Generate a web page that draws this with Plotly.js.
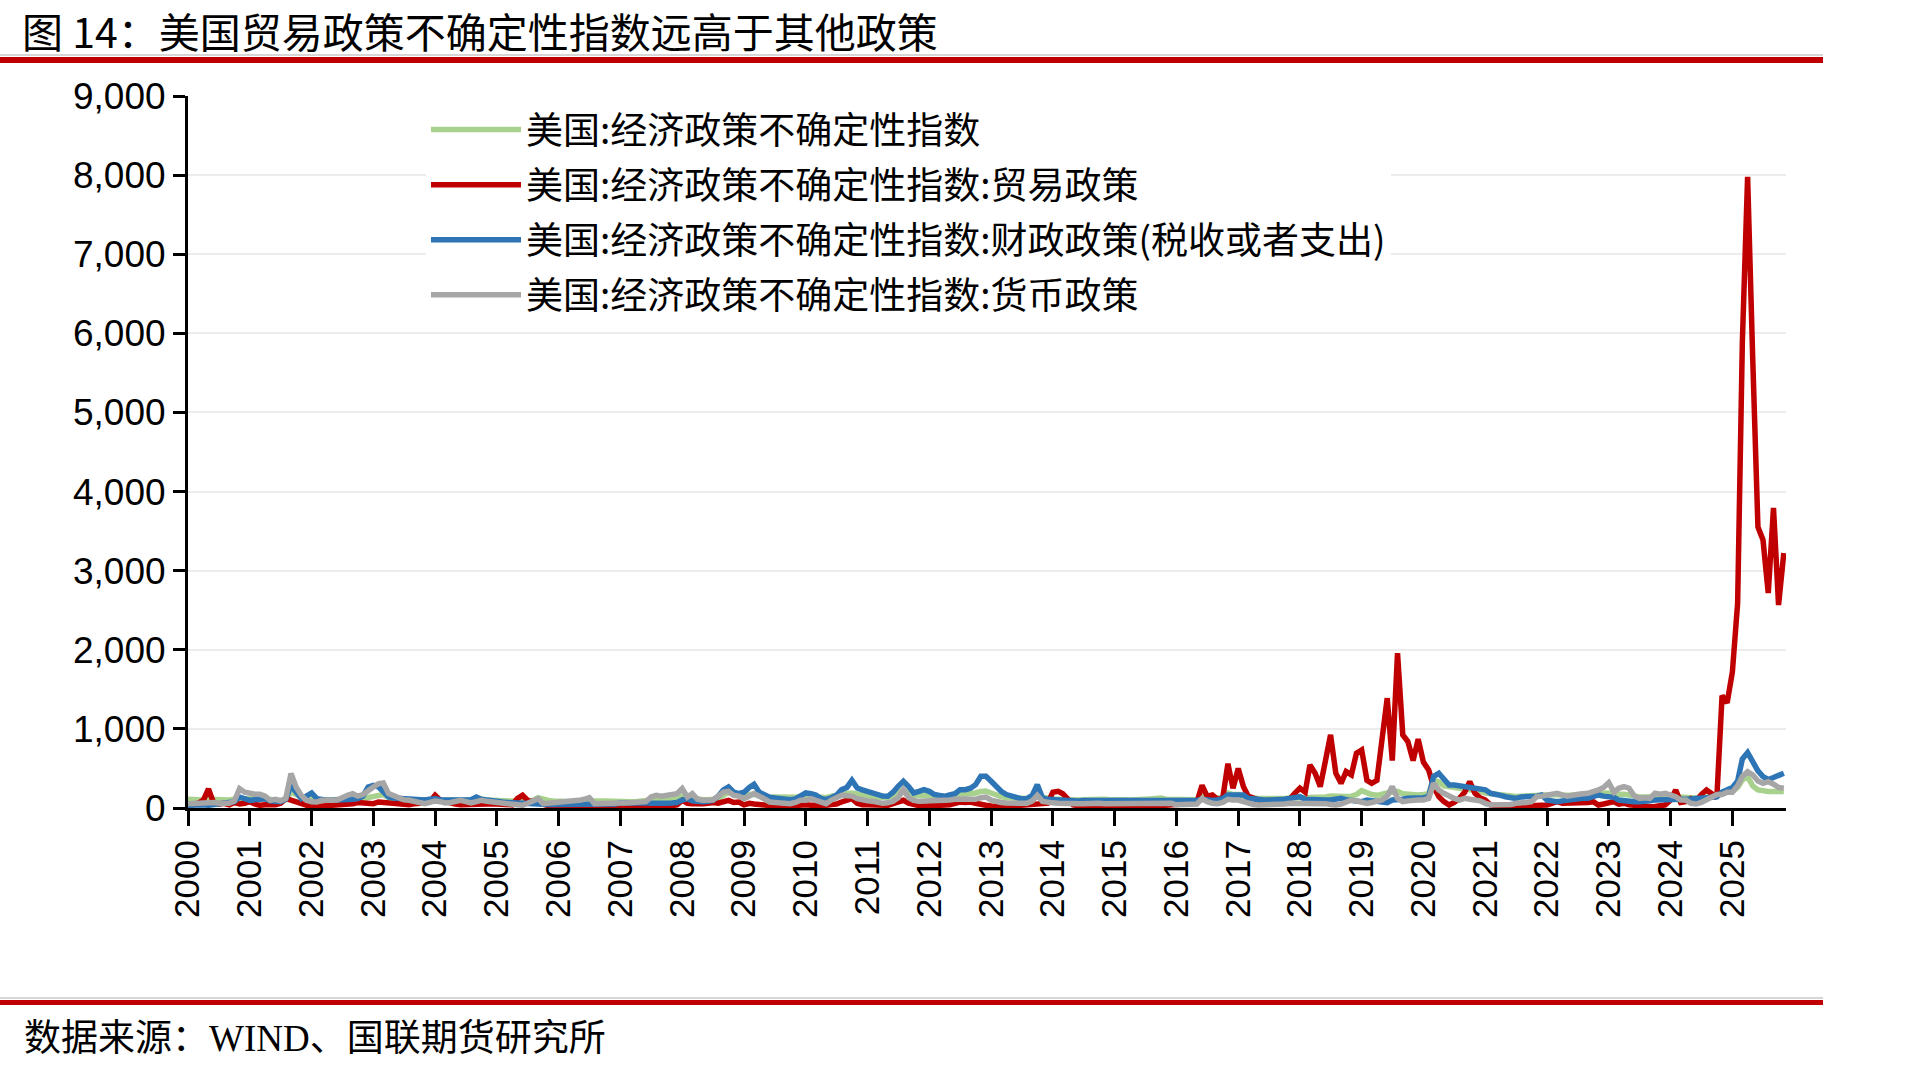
<!DOCTYPE html>
<html>
<head>
<meta charset="utf-8">
<script src="https://cdn.plot.ly/plotly-3.0.1.min.js"></script>
<style>
  html, body { margin: 0; padding: 0; background: #ffffff; }
  #chart { width: 1929px; height: 1071px; }
</style>
</head>
<body>
<div id="chart"></div>
<script>
// ---------------- data (monthly, Jan 2000 – Nov 2025) ----------------
const seriesNames = [
  '美国:经济政策不确定性指数',
  '美国:经济政策不确定性指数:贸易政策',
  '美国:经济政策不确定性指数:财政政策(税收或者支出)',
  '美国:经济政策不确定性指数:货币政策'
];
const firstYear = 2000, lastYear = 2025, lastMonth = 11;
const yearTicks = ['2000','2001','2002','2003','2004','2005','2006','2007','2008','2009','2010','2011','2012',
  '2013','2014','2015','2016','2017','2018','2019','2020','2021','2022','2023','2024','2025'];

const epu = [
  110,105,100,100,110,105,100,95,100,110,115,120,
  130,120,120,115,100,95,95,105,200,170,140,120,
  110,100,100,100,105,110,120,125,130,120,120,130,
  150,160,170,130,110,105,100,100,95,95,90,90,
  100,95,90,90,95,100,100,105,110,115,100,95,
  90,85,80,80,85,90,95,95,130,110,95,90,
  85,85,80,80,85,90,95,95,90,90,85,90,
  85,80,80,80,85,85,100,120,120,110,110,120,
  150,130,130,110,105,105,110,115,160,200,170,160,
  160,170,175,150,140,135,140,135,130,130,135,145,
  160,150,145,130,130,150,165,185,185,190,175,160,
  150,140,135,130,135,150,190,230,180,160,160,165,
  160,150,145,140,145,160,180,175,180,190,210,215,
  190,160,145,130,125,120,118,120,140,200,135,120,
  110,110,105,100,100,100,105,110,110,115,110,105,
  110,105,105,100,100,105,110,115,120,125,110,110,
  110,105,105,100,105,150,130,120,125,135,190,170,
  170,150,130,125,120,118,115,115,120,120,125,125,
  130,125,135,130,125,140,150,145,140,145,150,170,
  219,190,170,160,180,190,200,210,180,170,160,165,
  170,180,354,330,280,270,270,260,250,240,220,210,
  190,180,170,165,155,150,145,150,155,160,165,170,
  160,165,170,160,155,160,170,175,170,175,180,185,
  190,170,180,175,165,150,140,140,145,150,150,150,
  145,140,130,130,125,125,130,135,140,150,190,200,
  210,260,354,397,280,228,215,210,207,207,207
];

const trade = [
  30,50,60,100,240,60,50,60,40,70,50,60,
  80,50,34,40,34,40,60,118,100,76,50,40,
  13,20,25,15,20,30,40,50,55,70,60,50,
  55,76,70,60,50,40,34,40,55,60,97,80,
  160,97,80,60,50,40,40,34,40,45,50,55,
  55,50,40,40,118,160,97,80,55,40,30,25,
  20,15,12,12,15,15,15,15,15,12,12,12,
  12,12,12,12,12,12,15,15,20,25,30,40,
  97,60,55,50,55,60,70,60,76,97,70,76,
  40,60,50,40,34,30,25,20,25,30,40,50,
  40,35,30,40,34,45,50,76,90,118,60,40,
  40,34,30,30,34,55,70,97,60,40,30,25,
  25,25,30,34,40,60,76,70,76,60,40,34,
  25,20,20,21,25,30,34,30,40,55,50,60,
  200,211,181,97,40,30,25,20,20,25,20,20,
  15,15,15,20,25,30,25,20,25,30,35,40,
  40,50,70,60,70,287,150,165,110,120,560,250,
  500,270,150,120,100,90,80,80,70,80,110,185,
  250,200,544,440,270,600,924,440,312,460,418,692,
  734,350,312,350,870,1388,600,1958,924,840,600,870,
  580,480,270,143,80,38,70,122,200,333,186,130,
  101,38,30,25,17,20,20,25,25,30,30,35,
  38,60,80,60,60,55,55,59,70,80,38,50,
  60,80,50,60,40,30,20,17,17,20,25,38,
  100,228,70,80,120,90,170,228,180,130,1420,1330,
  1720,2590,5900,7977,5700,3552,3388,2718,3792,2566,3224
];

const fiscal = [
  34,40,46,40,34,40,45,55,60,80,139,118,
  97,105,118,118,90,76,80,110,287,200,118,150,
  190,118,105,97,97,97,97,100,110,118,150,266,
  287,266,200,139,125,118,118,110,100,97,100,110,
  118,105,100,97,97,100,100,105,139,110,100,97,
  90,76,70,65,60,55,55,50,55,50,45,45,
  45,40,38,34,34,35,34,36,38,40,45,50,
  63,65,70,76,72,65,60,55,58,60,63,70,
  100,118,90,76,80,85,95,150,230,266,200,181,
  200,260,300,200,160,135,127,115,105,105,115,148,
  190,180,165,120,105,130,160,232,260,350,253,230,
  211,180,165,150,148,200,274,338,270,190,210,232,
  211,170,160,148,165,181,232,232,250,295,400,400,
  338,260,211,170,148,120,114,120,160,295,127,110,
  105,100,95,95,95,90,95,95,90,95,95,90,
  95,90,85,80,80,80,85,85,80,85,90,95,
  80,80,85,90,95,110,100,95,100,120,165,165,
  177,165,122,110,101,101,101,101,105,110,122,135,
  143,110,105,101,101,101,101,105,122,105,101,90,
  80,101,95,80,75,67,101,101,110,122,122,130,
  130,143,397,439,354,291,291,280,270,249,240,230,
  230,186,165,160,143,130,122,140,143,140,150,165,
  100,90,80,90,100,100,110,122,122,150,165,150,
  150,135,100,90,80,80,80,80,90,100,100,100,
  100,110,105,110,115,120,125,130,130,140,200,228,
  260,340,620,700,590,470,397,360,385,405,439
];

const monetary = [
  55,60,55,65,75,70,60,55,60,90,245,200,
  181,175,173,150,97,110,90,120,435,266,160,97,
  80,76,97,90,97,100,139,160,181,150,170,224,
  266,308,316,181,150,118,105,97,80,70,55,70,
  89,80,63,70,85,97,80,63,80,97,85,80,
  76,65,55,50,40,34,60,90,118,55,60,70,
  76,76,76,85,97,110,131,55,60,60,60,63,
  63,63,63,63,63,80,139,160,150,155,160,180,
  245,139,181,110,97,97,100,150,202,211,160,150,
  118,150,181,150,118,76,70,63,60,55,70,97,
  97,118,97,70,55,100,139,160,155,150,118,100,
  90,84,70,59,65,84,130,232,130,97,84,84,
  90,84,90,97,100,110,118,115,110,110,130,139,
  100,80,70,63,60,58,55,60,90,160,84,70,
  65,60,55,55,55,55,55,60,55,60,55,55,
  55,55,55,60,60,60,55,60,65,70,65,60,
  40,45,50,45,50,120,80,60,55,70,110,100,
  101,80,59,45,38,38,38,38,45,50,59,60,
  60,59,60,65,67,55,45,38,50,80,101,90,
  80,59,70,80,101,150,270,122,80,90,101,100,
  101,120,312,228,186,143,120,101,122,110,101,90,
  59,38,40,38,38,45,59,60,70,80,143,150,
  165,175,186,165,150,160,175,180,186,200,228,260,
  320,200,249,270,250,150,122,130,122,186,175,186,
  165,143,101,100,59,50,70,101,143,170,170,200,
  200,280,400,460,420,340,312,333,300,260,249
];

const seriesValues = [epu, trade, fiscal, monetary];
const seriesColors = ['#a9d18e', '#c00000', '#2e75b6', '#a6a6a6'];

// month category labels (dates)
const months = [];
for (let y = firstYear; y <= lastYear; y++) {
  for (let m = 1; m <= 12; m++) {
    if (y === lastYear && m > lastMonth) break;
    months.push(y + '-' + String(m).padStart(2, '0') + '-01');
  }
}

// ---------------- layout geometry (pixels) ----------------
const W = 1929, H = 1071;
const L = 188, R = 1786, T = 96, B = 808;
const pw = R - L, ph = B - T;
const px = x => (x - L) / pw;        // pixel -> paper x
const py = y => (B - y) / ph;        // pixel -> paper y

const traces = seriesValues.map((vals, i) => ({
  type: 'scatter',
  mode: 'lines',
  name: seriesNames[i],
  x: months,
  y: vals,
  legendgroup: 'g' + i,
  line: { color: seriesColors[i], width: 5.5 },
  hoverinfo: 'x+y+name'
}));

// header / footer rules
const shapes = [
  { type: 'line', xref: 'paper', yref: 'paper', x0: px(0), x1: px(1823), y0: py(55), y1: py(55),
    line: { color: '#c8c8c8', width: 1.5 } },
  { type: 'rect', xref: 'paper', yref: 'paper', x0: px(0), x1: px(1823), y0: py(63), y1: py(57),
    fillcolor: '#c00000', line: { width: 0 } },
  { type: 'line', xref: 'paper', yref: 'paper', x0: px(0), x1: px(1823), y0: py(998), y1: py(998),
    line: { color: '#c8c8c8', width: 1.5 } },
  { type: 'rect', xref: 'paper', yref: 'paper', x0: px(0), x1: px(1823), y0: py(1005), y1: py(1000),
    fillcolor: '#c00000', line: { width: 0 } }
];

const layout = {
  width: W, height: H,
  margin: { l: L, r: W - R, t: T, b: H - B, pad: 0 },
  paper_bgcolor: '#ffffff',
  plot_bgcolor: '#ffffff',
  title: {
    text: '图 14：美国贸易政策不确定性指数远高于其他政策',
    xref: 'container', yref: 'container',
    x: 22 / W, xanchor: 'left',
    y: 1 - 34 / H, yanchor: 'middle',
    font: { family: '"Noto Sans CJK SC", sans-serif', size: 41, color: '#000000' }
  },
  showlegend: true,
  legend: {
    x: px(426), y: py(99), xanchor: 'left', yanchor: 'top',
    bgcolor: '#ffffff', borderwidth: 0,
    itemwidth: 90,
    traceorder: 'grouped', tracegroupgap: 4,
    font: { family: '"Noto Sans CJK SC", sans-serif', size: 37, color: '#000000' }
  },
  xaxis: {
    type: 'date',
    range: ['2000-01-01', '2025-11-14'],
    tickmode: 'array',
    tickvals: yearTicks.map(y => y + '-01-01'),
    ticktext: yearTicks,
    tickangle: -90,
    ticks: 'outside', ticklen: 15, tickwidth: 3, tickcolor: '#000000',
    showline: true, linecolor: '#000000', linewidth: 3,
    showgrid: false, zeroline: false,
    tickfont: { family: '"Liberation Sans", Arial, sans-serif', size: 35, color: '#000000' }
  },
  yaxis: {
    range: [0, 9000],
    tickmode: 'linear', tick0: 0, dtick: 1000,
    tickformat: ',d',
    ticks: 'outside', ticklen: 12, tickwidth: 3, tickcolor: '#000000',
    showline: true, linecolor: '#000000', linewidth: 3,
    showgrid: true, gridcolor: '#ececec', gridwidth: 2,
    zeroline: false,
    tickfont: { family: '"Liberation Sans", Arial, sans-serif', size: 37, color: '#000000' }
  },
  shapes: shapes,
  annotations: [{
    text: '数据来源：WIND、国联期货研究所',
    xref: 'paper', yref: 'paper',
    x: px(22), xanchor: 'left',
    y: py(1038), yanchor: 'middle',
    showarrow: false,
    font: { family: '"Liberation Serif", "Noto Sans CJK SC", serif', size: 37, color: '#000000' }
  }]
};

Plotly.newPlot('chart', traces, layout, { displayModeBar: false, responsive: false });
</script>
</body>
</html>
